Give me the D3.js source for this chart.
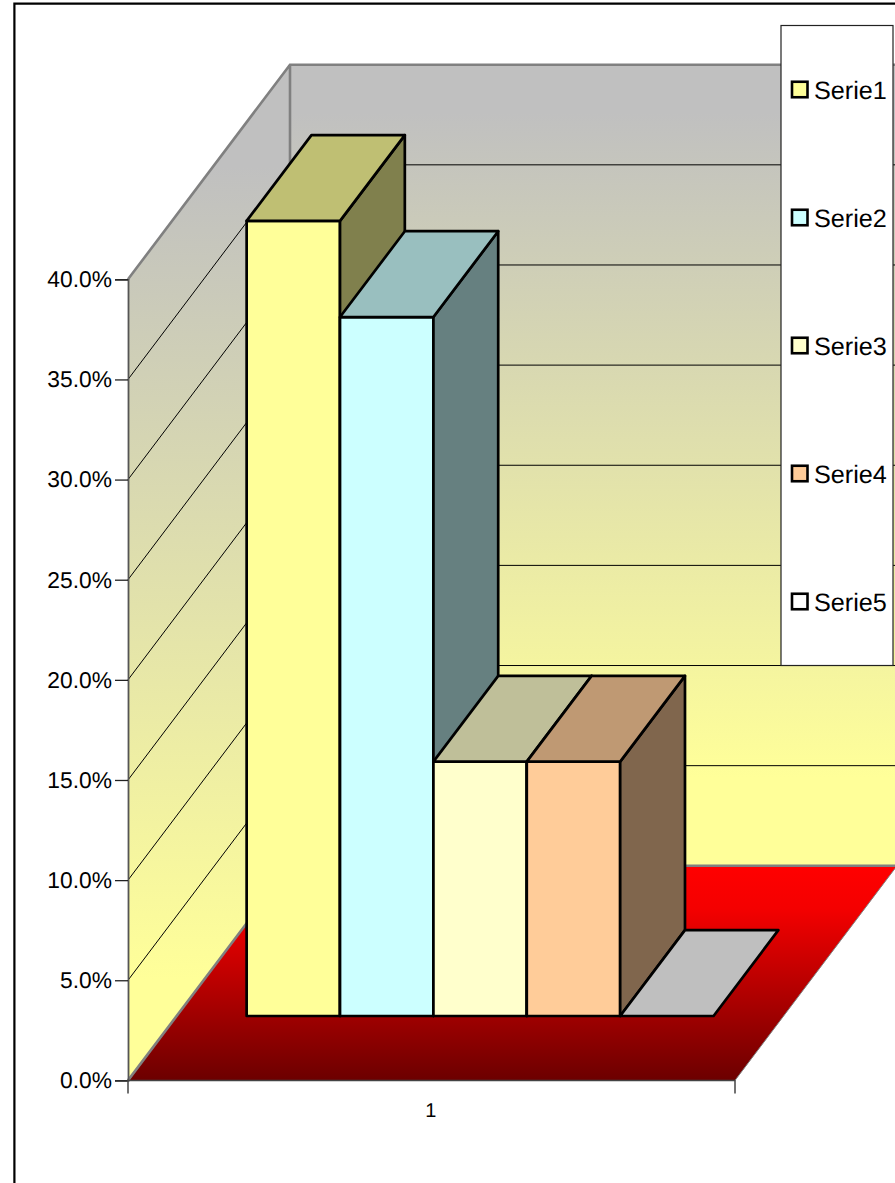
<!DOCTYPE html>
<html><head><meta charset="utf-8">
<script src="https://cdn.jsdelivr.net/npm/d3@7"></script>
<style>
html,body{margin:0;padding:0;background:#fff;overflow:hidden}
svg{display:block}
text{font-family:"Liberation Sans",Arial,sans-serif;fill:#000;text-rendering:geometricPrecision}
</style></head><body>
<svg id="c" width="895" height="1183"></svg>
<script>
const categories = ["1"];
const seriesNames = ["Serie1","Serie2","Serie3","Serie4","Serie5"];
const seriesValues = [0.397,0.349,0.127,0.127,0];
const seriesColors = ["#FFFF99","#CCFFFF","#FFFFCC","#FFCC99","#FFFFFF"];
const yTickValues = [0,0.05,0.10,0.15,0.20,0.25,0.30,0.35,0.40];

const W=895,H=1183;
const svg=d3.select("#c");
const y=d3.scaleLinear().domain([0,0.4]).range([1080.4,279.3]);
const xCat=d3.scaleBand().domain(categories).range([128,735]);
const DX=162, DY=-214.6;             // full depth of the plot box
const depth=d3.scaleLinear().domain([0,1]).range([0,1]);
const off=t=>[DX*depth(t),DY*depth(t)];
const x=d3.scaleBand().domain(seriesNames).range([128+DX*0.3,735+DX*0.3]).paddingInner(0).paddingOuter(0.75);
const poly=pts=>pts.map(p=>p.map(v=>v.toFixed(2)).join(",")).join(" ");
const x0=xCat.range()[0],x1=xCat.range()[1];

const defs=svg.append("defs");
function grad(id,yA,yB,stops){
  const g=defs.append("linearGradient").attr("id",id).attr("gradientUnits","userSpaceOnUse")
    .attr("x1",0).attr("x2",0).attr("y1",yA).attr("y2",yB);
  stops.forEach(s=>g.append("stop").attr("offset",s[0]).attr("stop-color",s[1]));
}
grad("wallBack",y(0.4)+DY,y(0)+DY,[[0,"#C0C0C0"],[0.06,"#C0C0C0"],[0.89,"#FFFF99"],[1,"#FFFF99"]]);
grad("wallSide",y(0.4)+DY,y(0),[[0,"#C0C0C0"],[0.1,"#C0C0C0"],[0.9,"#FFFF99"],[1,"#FFFF99"]]);
grad("floor",y(0)+DY,y(0),[[0,"#FF0000"],[0.2,"#F40000"],[1,"#6C0000"]]);

// page frame
svg.append("path").attr("d",`M14.4,${H+2}V3.6H${W+2}`).attr("fill","none").attr("stroke","#000").attr("stroke-width",2.2);

// walls and floor
svg.append("polygon").attr("points",poly([[x0+DX,y(0.4)+DY],[W+5,y(0.4)+DY],[W+5,y(0)+DY],[x0+DX,y(0)+DY]])).attr("fill","url(#wallBack)");
svg.append("polygon").attr("points",poly([[x0,y(0.4)],[x0+DX,y(0.4)+DY],[x0+DX,y(0)+DY],[x0,y(0)]])).attr("fill","url(#wallSide)");
svg.append("polygon").attr("points",poly([[x0,y(0)],[x1,y(0)],[x1+DX,y(0)+DY],[x0+DX,y(0)+DY]])).attr("fill","url(#floor)");

// gridlines
yTickValues.filter(v=>v>0&&v<0.4).forEach(v=>{
  svg.append("path").attr("d",`M${x0},${y(v)}L${x0+DX},${y(v)+DY}H${W+5}`).attr("fill","none").attr("stroke","#000").attr("stroke-width",1);
});
// wall outlines
svg.append("path").attr("d",`M${x0},${y(0.4)}L${x0+DX},${y(0.4)+DY}H${W+5}M${x0+DX},${y(0.4)+DY}V${y(0)+DY}H${W+5}M${x0+DX},${y(0)+DY}L${x0},${y(0)}`)
  .attr("fill","none").attr("stroke","#808080").attr("stroke-width",2.6);
svg.append("path").attr("d",`M${x1},${y(0)}L${x1+DX},${y(0)+DY}`).attr("fill","none").attr("stroke","#808080").attr("stroke-width",1);

// bars
const bd0=off(0.3), bd=off(0.4);
const bars=svg.append("g").selectAll("g").data(seriesNames).join("g");
bars.each(function(name,i){
  const g=d3.select(this), v=seriesValues[i], c=d3.color(seriesColors[i]);
  const shade=k=>d3.rgb(c.r*k,c.g*k,c.b*k).formatHex();
  const l=x(name), r=l+x.bandwidth(), b=y(0)+bd0[1], t=y(v)+bd0[1];
  const sty=s=>s.attr("stroke","#000").attr("stroke-width",2.7).attr("stroke-linejoin","round");
  if(v>0){
    g.append("polygon").attr("points",poly([[l,t],[r,t],[r,b],[l,b]])).attr("fill",shade(1)).call(sty);
    g.append("polygon").attr("points",poly([[r,t],[r+bd[0],t+bd[1]],[r+bd[0],b+bd[1]],[r,b]])).attr("fill",shade(0.5)).call(sty);
  }
  g.append("polygon").attr("points",poly([[l,t],[l+bd[0],t+bd[1]],[r+bd[0],t+bd[1]],[r,t]])).attr("fill",shade(0.75)).call(sty);
});

// axes
const yAxis=d3.axisLeft(y).tickValues(yTickValues).tickFormat(d3.format(".1%")).tickSize(13).tickPadding(3);
const ga=svg.append("g").attr("transform",`translate(${x0},0)`).call(yAxis);
ga.select(".domain").attr("stroke","#555").attr("stroke-width",1.8);
ga.selectAll(".tick line").attr("stroke","#222").attr("stroke-width",1.3);
ga.selectAll("text").attr("font-size",22.8).attr("font-family",'"Liberation Sans"').attr("fill","#000");

const xAxis=d3.axisBottom(xCat).tickSize(0).tickPadding(22);
const gb=svg.append("g").attr("transform",`translate(0,${y(0)})`).call(xAxis);
gb.select(".domain").attr("d",`M${x0},13V0H${x1}V13`).attr("fill","none").attr("stroke","#444").attr("stroke-width",1.5);
gb.selectAll("text").attr("font-size",20).attr("font-family",'"Liberation Sans"').attr("fill","#000").attr("dx",-0.7);

// legend
const lg=svg.append("g");
lg.append("rect").attr("x",781).attr("y",25.5).attr("width",112).attr("height",640).attr("fill","#fff").attr("stroke","#222").attr("stroke-width",1.2);
const ly=d3.scalePoint().domain(seriesNames).range([89.5,601.5]);
seriesNames.forEach((n,i)=>{
  lg.append("rect").attr("x",792).attr("y",ly(n)-7.75).attr("width",15.5).attr("height",15.5).attr("fill",seriesColors[i]).attr("stroke","#000").attr("stroke-width",2.6);
  lg.append("text").attr("x",814).attr("y",ly(n)+9).attr("font-size",25.2).text(n);
});
</script></body></html>
